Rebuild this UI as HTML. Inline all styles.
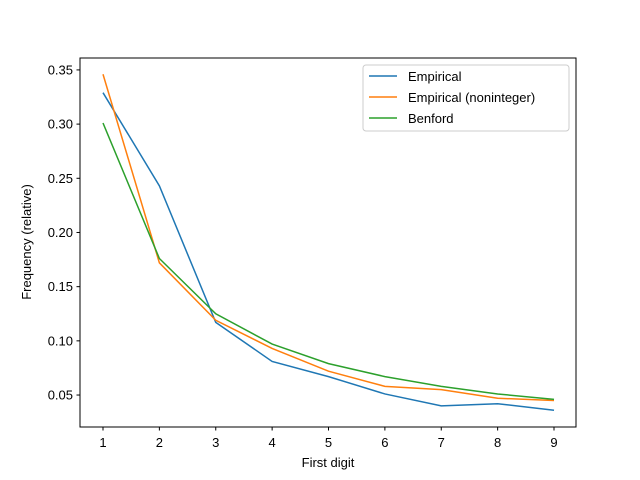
<!DOCTYPE html>
<html><head><meta charset="utf-8"><style>
body{margin:0;background:#fff;}
svg{display:block;font-family:"Liberation Sans","DejaVu Sans",sans-serif;}
</style></head><body>
<svg id="chart" width="640" height="480" xmlns="http://www.w3.org/2000/svg">
<rect width="640" height="480" fill="#fff"/>
<g id="grid"></g>
<g id="lines"></g>
<rect x="80" y="58" width="496" height="369" fill="none" stroke="#000" stroke-width="1"/>
<g id="ticks"></g>
<text x="328" y="467" font-size="13" text-anchor="middle">First digit</text>
<text transform="translate(31,242) rotate(-90)" font-size="13" text-anchor="middle">Frequency (relative)</text>
<g>
<rect x="363" y="65" width="206" height="66" rx="3" fill="#fff" fill-opacity="0.8" stroke="#ccc"/>
<g id="legend"></g>
</g>
</svg>
<script>
const digits=[1,2,3,4,5,6,7,8,9];
const empirical=[0.329,0.243,0.117,0.081,0.067,0.051,0.040,0.042,0.036];
const noninteger=[0.346,0.172,0.119,0.093,0.072,0.058,0.055,0.047,0.045];
const benford=[0.301,0.176,0.125,0.097,0.079,0.067,0.058,0.051,0.046];
const yTicks=[0.05,0.10,0.15,0.20,0.25,0.30,0.35];
const seriesNames=["Empirical","Empirical (noninteger)","Benford"];
const colors=["#1f77b4","#ff7f0e","#2ca02c"];
const NS="http://www.w3.org/2000/svg";
const X0=80,X1=576,Y0=427,Y1=58,xmin=0.592,xmax=9.39,ymin=0.0205,ymax=0.361;
const xs=v=>X0+(v-xmin)/(xmax-xmin)*(X1-X0);
const ys=v=>Y0-(v-ymin)/(ymax-ymin)*(Y0-Y1);
function mk(t,a,p){const e=document.createElementNS(NS,t);for(const k in a)e.setAttribute(k,a[k]);p.appendChild(e);return e;}
const tk=document.getElementById('ticks');
digits.forEach(d=>{
 const x=xs(d);
 const l=mk('line',{x1:x,x2:x,y1:427,y2:430.5,stroke:'#000'},tk);
 
 
 const t=mk('text',{x:x,y:447,'font-size':13,'text-anchor':'middle'},tk);t.textContent=d;
 
 
});
yTicks.forEach(v=>{
 const y=ys(v);
 const l=mk('line',{x1:76.5,x2:80,y1:y,y2:y,stroke:'#000'},tk);
 
 
 const t=mk('text',{x:73,y:y+4.5,'font-size':13,'text-anchor':'end'},tk);t.textContent=v.toFixed(2);
 
 
});
const lg=document.getElementById('lines');
[empirical,noninteger,benford].forEach((s,i)=>{
 const p=mk('polyline',{points:s.map((v,j)=>xs(digits[j])+','+ys(v)).join(' '),fill:'none',stroke:colors[i],'stroke-width':1.5},lg);
 
 
});
const lgd=document.getElementById('legend');
seriesNames.forEach((n,i)=>{
 const y=76+i*21;
 const l=mk('line',{x1:369,x2:397,y1:y,y2:y,stroke:colors[i],'stroke-width':1.5},lgd);
 
 
 const t=mk('text',{x:408,y:y+5,'font-size':13},lgd);t.textContent=n;
 
 
});
</script>
</body></html>
